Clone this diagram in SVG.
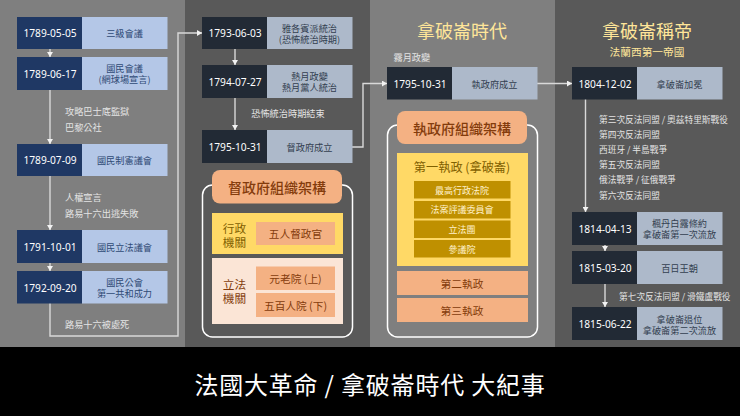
<svg xmlns="http://www.w3.org/2000/svg" width="740" height="416" viewBox="0 0 740 416">
<defs>
<marker id="arr" markerUnits="userSpaceOnUse" markerWidth="6" markerHeight="6" refX="5" refY="3" orient="auto"><path d="M0 0L5 3L0 6Z" fill="#f2f2f2"/></marker>
</defs>
<style>
text{font-family:"Noto Sans CJK TC","Noto Sans",sans-serif;dominant-baseline:central;}
.c{text-anchor:middle}
.date{font-family:"Noto Sans","Noto Sans CJK TC",sans-serif;font-size:10.2px;fill:#fff;text-anchor:middle}
.lb{font-size:9.2px;text-anchor:middle}
.blue .d{fill:#1f3864}.blue .l{fill:#b4c7e7}.blue .lb{fill:#2f4a75}
.slate .d{fill:#222a35}.slate .l{fill:#adb9ca}.slate .lb{fill:#333f50}
.note{font-size:9.2px;fill:#e4e4e4}
.n4{font-size:8.7px}
.wire{fill:none;stroke:#d9d9d9;stroke-width:1.4}
.arr{marker-end:url(#arr)}
.frame{fill:none;stroke:#fff;stroke-width:1.5}
.head{fill:#f4b183}
.ht{font-size:14px;font-weight:500;fill:#843c0c;text-anchor:middle}
.y{fill:#ffd966}.p{fill:#fbe5d6}.o{fill:#f4b183}.g{fill:#bf9000}
.bt{font-size:10.7px;fill:#843c0c;text-anchor:middle}
.yt{font-size:11.7px;fill:#7f6000;text-anchor:middle}
.gt{font-size:9px;fill:#fff2cc;text-anchor:middle}
.title{font-size:18px;fill:#ffe699;text-anchor:middle}
</style>
<g id="background">
<rect x="0" y="0" width="185" height="347" fill="#7f7f7f"/>
<rect x="185" y="0" width="185" height="347" fill="#595959"/>
<rect x="370" y="0" width="185" height="347" fill="#7f7f7f"/>
<rect x="555" y="0" width="185" height="347" fill="#595959"/>
<rect x="0" y="347" width="740" height="69" fill="#000"/>
</g>
<g id="connectors">
<path class="wire arr" d="M50 49V57"/>
<path class="wire arr" d="M50 90V144"/>
<path class="wire arr" d="M50 176V230"/>
<path class="wire arr" d="M50 263V271"/>
<path class="wire arr" d="M50 303V336H178V33H202"/>
<path class="wire arr" d="M235 49V65"/>
<path class="wire arr" d="M235 98V130"/>
<path class="wire arr" d="M352 147H363V83.500H387"/>
<path class="wire arr" d="M537 83.500H572"/>
<path class="wire arr" d="M585.500 99V212"/>
<path class="wire arr" d="M605 245V251"/>
<path class="wire arr" d="M605 284V307"/>
</g>
<g id="n1" class="blue"><rect class="d" x="17" y="17" width="65" height="32"/><rect class="l" x="82" y="17" width="85.500" height="32"/><text class="date" x="50" y="33">1789-05-05</text><text class="lb" x="124.500" y="33">三級會議</text></g>
<g id="n2" class="blue"><rect class="d" x="17" y="57" width="65" height="33"/><rect class="l" x="82" y="57" width="85.500" height="33"/><text class="date" x="50" y="73.500">1789-06-17</text><text class="lb" x="124.500" y="68">國民會議</text><text class="lb" x="124.500" y="79">(網球場宣言)</text></g>
<g id="n3" class="blue"><rect class="d" x="17" y="144" width="65" height="32"/><rect class="l" x="82" y="144" width="85.500" height="32"/><text class="date" x="50" y="160">1789-07-09</text><text class="lb" x="124.500" y="160">國民制憲議會</text></g>
<g id="n4" class="blue"><rect class="d" x="17" y="230" width="65" height="33"/><rect class="l" x="82" y="230" width="85.500" height="33"/><text class="date" x="50" y="246.500">1791-10-01</text><text class="lb" x="124.500" y="246.500">國民立法議會</text></g>
<g id="n5" class="blue"><rect class="d" x="17" y="271" width="65" height="32.500"/><rect class="l" x="82" y="271" width="85.500" height="32.500"/><text class="date" x="50" y="287.500">1792-09-20</text><text class="lb" x="124.500" y="281.500">國民公會</text><text class="lb" x="124.500" y="292.500">第一共和成力</text></g>
<g id="notes">
<text class="note" x="65" y="110.500">攻略巴士底監獄</text>
<text class="note" x="65" y="127">巴黎公社</text>
<text class="note" x="65" y="197">人權宣言</text>
<text class="note" x="65" y="213">路易十六出逃失敗</text>
<text class="note" x="65" y="323.500">路易十六被處死</text>
<text class="note c" x="288" y="113">恐怖統治時期結束</text>
<text class="note" x="393.500" y="57">霧月政變</text>
<text class="note n4" x="599" y="119">第三次反法同盟 / 奧茲特里斯戰役</text>
<text class="note n4" x="599" y="134">第四次反法同盟</text>
<text class="note n4" x="599" y="149.500">西班牙 / 半島戰爭</text>
<text class="note n4" x="599" y="164.500">第五次反法同盟</text>
<text class="note n4" x="599" y="179.500">俄法戰爭 / 征俄戰爭</text>
<text class="note n4" x="599" y="195">第六次反法同盟</text>
<text class="note n4" x="619" y="296">第七次反法同盟 / 滑鐵盧戰役</text>
</g>
<g id="n6" class="slate"><rect class="d" x="202" y="17" width="65" height="32"/><rect class="l" x="267" y="17" width="85.500" height="32"/><text class="date" x="235" y="33">1793-06-03</text><text class="lb" x="309.500" y="27.500">雅各賓派統治</text><text class="lb" x="309.500" y="38.500">(恐怖統治時期)</text></g>
<g id="n7" class="slate"><rect class="d" x="202" y="65" width="65" height="33"/><rect class="l" x="267" y="65" width="85.500" height="33"/><text class="date" x="235" y="81.500">1794-07-27</text><text class="lb" x="309.500" y="76">熱月政變</text><text class="lb" x="309.500" y="87">熱月黨人統治</text></g>
<g id="n8" class="slate"><rect class="d" x="202" y="130" width="65" height="33"/><rect class="l" x="267" y="130" width="85.500" height="33"/><text class="date" x="235" y="147">1795-10-31</text><text class="lb" x="309.500" y="147">督政府成立</text></g>
<g id="directory">
<rect class="frame" x="202.500" y="185" width="150" height="152" rx="10"/>
<rect class="head" x="212" y="170" width="130" height="33.500" rx="8"/>
<text class="ht" x="277" y="187">督政府組織架構</text>
<rect class="y" x="212" y="213" width="131" height="41"/>
<text class="yt" x="234.500" y="227">行政</text><text class="yt" x="234.500" y="241">機關</text>
<rect class="o" x="256" y="222" width="79" height="23"/>
<text class="bt" x="295.500" y="233.500">五人督政官</text>
<rect class="p" x="212" y="258" width="131" height="66"/>
<text class="bt" x="234.500" y="283" style="font-size:11.700px">立法</text><text class="bt" x="234.500" y="297" style="font-size:11.700px">機關</text>
<rect class="o" x="256" y="266.500" width="79" height="23.500"/>
<text class="bt" x="295.500" y="278.500">元老院 (上)</text>
<rect class="o" x="256" y="293" width="79" height="24"/>
<text class="bt" x="295.500" y="305">五百人院 (下)</text>
</g>
<text class="title" x="462" y="30">拿破崙時代</text>
<g id="n9" class="slate"><rect class="d" x="387" y="67" width="65" height="32.500"/><rect class="l" x="452" y="67" width="85.500" height="32.500"/><text class="date" x="420" y="83.500">1795-10-31</text><text class="lb" x="494.500" y="83.500">執政府成立</text></g>
<g id="consulate">
<rect class="frame" x="387.500" y="125" width="150" height="212" rx="10"/>
<rect class="head" x="397" y="111" width="130" height="33" rx="8"/>
<text class="ht" x="462" y="127.500">執政府組織架構</text>
<rect class="y" x="397" y="153" width="131" height="113"/>
<text class="yt" x="462" y="167" style="font-size:12.200px">第一執政 (拿破崙)</text>
<rect class="g" x="414" y="181" width="96.500" height="17.500"/><text class="gt" x="462" y="190">最高行政法院</text>
<rect class="g" x="414" y="201" width="96.500" height="17.500"/><text class="gt" x="462" y="209.500">法案評議委員會</text>
<rect class="g" x="414" y="220.500" width="96.500" height="17.500"/><text class="gt" x="462" y="229.500">立法團</text>
<rect class="g" x="414" y="240" width="96.500" height="17.500"/><text class="gt" x="462" y="249">參議院</text>
<rect class="o" x="397" y="271" width="131" height="24"/><text class="bt" x="462" y="283">第二執政</text>
<rect class="o" x="397" y="298" width="131" height="24"/><text class="bt" x="462" y="310">第三執政</text>
</g>
<text class="title" x="647" y="30">拿破崙稱帝</text>
<text x="647" y="51" class="c" style="font-size:10.700px;fill:#ffe699">法蘭西第一帝國</text>
<g id="n10" class="slate"><rect class="d" x="572" y="67" width="65" height="32.500"/><rect class="l" x="637" y="67" width="85.500" height="32.500"/><text class="date" x="605" y="83.500">1804-12-02</text><text class="lb" x="679.500" y="83.500">拿破崙加冕</text></g>
<g id="n11" class="slate"><rect class="d" x="572" y="212" width="65" height="33"/><rect class="l" x="637" y="212" width="85.500" height="33"/><text class="date" x="605" y="228.500">1814-04-13</text><text class="lb" x="679.500" y="223">楓丹白露條約</text><text class="lb" x="679.500" y="234">拿破崙第一次流放</text></g>
<g id="n12" class="slate"><rect class="d" x="572" y="251" width="65" height="33"/><rect class="l" x="637" y="251" width="85.500" height="33"/><text class="date" x="605" y="268">1815-03-20</text><text class="lb" x="679.500" y="268">百日王朝</text></g>
<g id="n13" class="slate"><rect class="d" x="572" y="307" width="65" height="33"/><rect class="l" x="637" y="307" width="85.500" height="33"/><text class="date" x="605" y="324">1815-06-22</text><text class="lb" x="679.500" y="318.500">拿破崙退位</text><text class="lb" x="679.500" y="329.500">拿破崙第二次流放</text></g>
<text x="370" y="383" class="c" style="font-size:24px;letter-spacing:0.8px;fill:#fff">法國大革命 / 拿破崙時代 大紀事</text>
</svg>
